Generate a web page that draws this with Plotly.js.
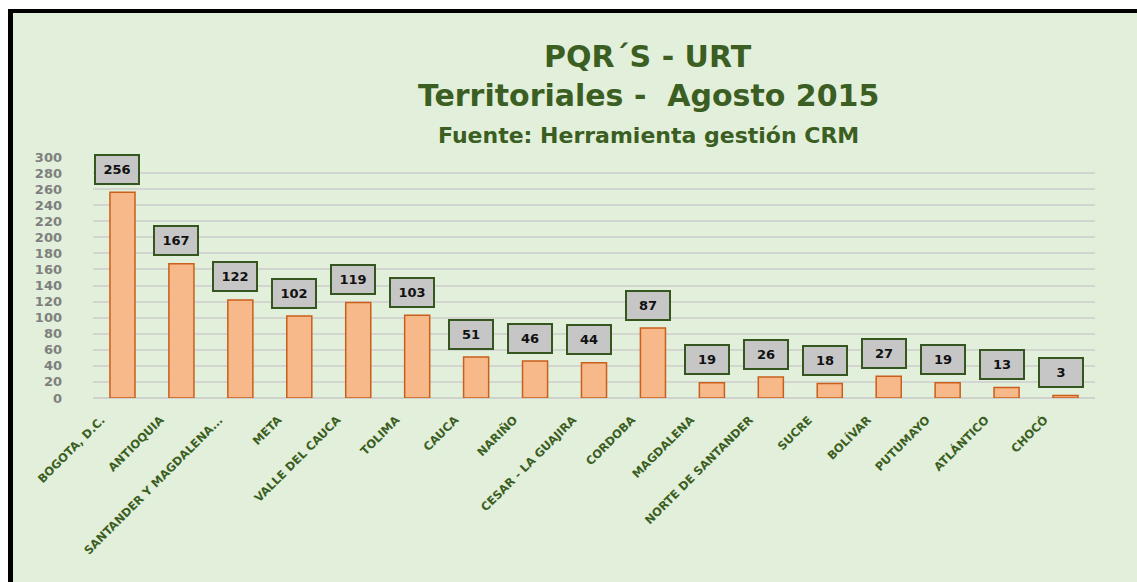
<!DOCTYPE html>
<html>
<head>
<meta charset="utf-8">
<script src="https://cdn.plot.ly/plotly-3.0.1.min.js"></script>
<style>
  html, body { margin: 0; padding: 0; background: #ffffff; }
  #wrap { position: relative; width: 1137px; height: 582px; overflow: hidden; }
  #chart { position: absolute; left: 0; top: 0; width: 1137px; height: 582px; }
  .strip { position: absolute; }
</style>
</head>
<body>
<div id="wrap">
  <div id="chart"></div>
  <div class="strip" style="left:0;top:0;width:1137px;height:9px;background:#ffffff;"></div>
  <div class="strip" style="left:0;top:0;width:8px;height:582px;background:#ffffff;"></div>
  <div class="strip" style="left:8px;top:9px;width:1129px;height:4px;background:#000000;"></div>
  <div class="strip" style="left:8px;top:9px;width:5px;height:573px;background:#000000;"></div>
</div>
<script>
const categories = [
  "BOGOTA, D.C.", "ANTIOQUIA", "SANTANDER Y MAGDALENA...", "META", "VALLE DEL CAUCA",
  "TOLIMA", "CAUCA", "NARIÑO", "CESAR - LA GUAJIRA", "CORDOBA", "MAGDALENA",
  "NORTE DE SANTANDER", "SUCRE", "BOLÍVAR", "PUTUMAYO", "ATLÁNTICO", "CHOCÓ"
];
const values = [256, 167, 122, 102, 119, 103, 51, 46, 44, 87, 19, 26, 18, 27, 19, 13, 3];
const titleLines = ["PQR´S - URT", "Territoriales -  Agosto 2015", "Fuente: Herramienta gestión CRM"];

const green = "#3B5E22";
const trace = {
  type: "bar",
  x: categories,
  y: values,
  marker: { color: "#F8B98A", line: { color: "#C95F1A", width: 1.5 } },
  hoverinfo: "x+y"
};

const valueAnnotations = categories.map((c, i) => ({
  x: c, y: values[i], xref: "x", yref: "y",
  text: String(values[i]), showarrow: false,
  xanchor: "center", yanchor: "middle",
  xshift: -5, yshift: 23,
  width: 36, height: 21, borderpad: 3,
  bgcolor: "#C6C6C6", bordercolor: "#35561F", borderwidth: 2,
  font: { family: "DejaVu Sans, sans-serif", size: 13, color: "#111111", weight: "bold" }
}));

const titleSizes = [30, 30, 22];
const titleY = [1.415, 1.255, 1.088];
const titleAnnotations = titleLines.map((t, i) => ({
  x: 0.554, y: titleY[i], xref: "paper", yref: "paper",
  text: "<b>" + t + "</b>", showarrow: false,
  xanchor: "center", yanchor: "middle",
  font: { family: "DejaVu Sans, sans-serif", size: titleSizes[i], color: green }
}));

const layout = {
  width: 1137, height: 582,
  margin: { l: 93, r: 42, t: 157, b: 184 },
  paper_bgcolor: "#E2EFDA",
  plot_bgcolor: "#E2EFDA",
  showlegend: false,
  bargap: 0.575,
  xaxis: {
    type: "category",
    tickangle: -45,
    showgrid: false,
    showline: false,
    ticks: "",
    ticklabelshift: -21,
    ticklabelstandoff: 12,
    tickfont: { family: "DejaVu Sans, sans-serif", size: 11.5, color: green, weight: "bold" }
  },
  yaxis: {
    range: [0, 300],
    dtick: 20,
    tick0: 0,
    showgrid: true,
    gridcolor: "#D3D6D0",
    gridwidth: 2,
    zeroline: true,
    zerolinecolor: "#CFD1CD",
    zerolinewidth: 2,
    showline: false,
    ticks: "",
    ticklabelstandoff: 30,
    tickfont: { family: "DejaVu Sans, sans-serif", size: 13, color: "#7F7F7F", weight: "bold" }
  },
  annotations: titleAnnotations.concat(valueAnnotations)
};

Plotly.newPlot("chart", [trace], layout, { displayModeBar: false, staticPlot: true });
</script>
</body>
</html>
